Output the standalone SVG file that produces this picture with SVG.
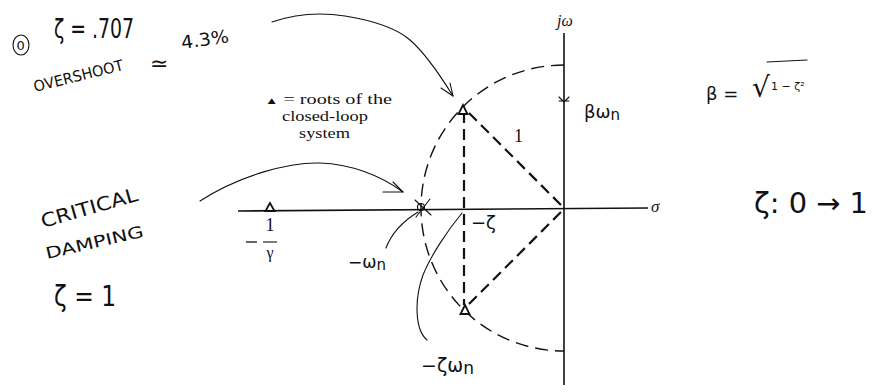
<svg xmlns="http://www.w3.org/2000/svg" width="878" height="392" viewBox="0 0 878 392">
<style>
.bg{fill:#fff}
.axis{stroke:#111;stroke-width:1.6;fill:none}
.dash{stroke:#111;stroke-width:2.2;fill:none;stroke-dasharray:11 6}
.arc{stroke:#111;stroke-width:1.4;fill:none;stroke-dasharray:13 7}
.hand{stroke:#111;stroke-width:1.1;fill:none;stroke-linecap:round;stroke-linejoin:round}
.tri{stroke:#111;stroke-width:1.8;fill:#fff;stroke-linejoin:miter}
.serif{font-family:"Liberation Serif","Times New Roman",serif;fill:#111}
.hw{font-family:"DejaVu Sans","Liberation Sans",sans-serif;fill:#111;font-weight:normal}
</style>
<rect class="bg" x="0" y="0" width="878" height="392"/>

<g id="axes">
  <line class="axis" x1="238" y1="211" x2="648" y2="208"/>
  <line class="axis" x1="564" y1="33" x2="564" y2="385"/>
  <path class="hand" d="M559,97 L564,102 L569,97 M559,101 L569,101" />
  <text class="serif" x="557" y="26" font-size="16" font-style="italic">jω</text>
  <text class="serif" x="651" y="212" font-size="17" font-style="italic">σ</text>
</g>

<g id="locus">
  <path class="arc" d="M564,65 A143,143 0 0 0 564,351"/>
  <line class="dash" x1="464" y1="112" x2="464" y2="305"/>
  <line class="dash" x1="469" y1="113" x2="562" y2="206"/>
  <line class="dash" x1="469" y1="304" x2="562" y2="211"/>
  <text class="serif" x="514" y="142" font-size="18">1</text>
  <text class="hw" x="471" y="229" font-size="18">−ζ</text>
</g>

<g id="roots">
  <polygon class="tri" points="463,105 458.5,114 467.5,114"/>
  <polygon class="tri" points="465,305 460.5,314 469.5,314"/>
  <polygon class="tri" points="270,203 265.5,211 274.5,211"/>
</g>

<g id="pole-label">
  <text class="serif" x="270" y="231" font-size="18" text-anchor="middle">1</text>
  <line x1="246" y1="242" x2="257" y2="242" stroke="#111" stroke-width="1.3"/>
  <line x1="263" y1="242" x2="277" y2="242" stroke="#111" stroke-width="1.1"/>
  <text class="serif" x="270" y="258" font-size="16" text-anchor="middle">γ</text>
</g>

<g id="legend">
  <text class="serif" x="265" y="104" font-size="15" textLength="127" lengthAdjust="spacingAndGlyphs"><tspan font-size="10">▲</tspan> = roots of the</text>
  <text class="serif" x="282" y="121" font-size="15" textLength="86" lengthAdjust="spacingAndGlyphs">closed-loop</text>
  <text class="serif" x="299" y="138" font-size="15" textLength="51" lengthAdjust="spacingAndGlyphs">system</text>
</g>

<g id="critical-point">
  <circle cx="421" cy="207" r="3.5" class="hand"/>
  <path class="hand" d="M415,200 L431,215 M430,199 L416,217"/>
</g>

<g id="connectors">
  <path class="hand" d="M272,22 C295,14 320,12 345,16 C370,20 395,27 410,40 C425,53 440,75 453,96"/>
  <path class="hand" d="M453,96 L441,88 M453,96 L450,83"/>
  <path class="hand" d="M200,201 C240,175 290,162 320,163 C350,164 380,175 403,192"/>
  <path class="hand" d="M403,192 L393,182 M403,192 L383,192"/>
  <path class="hand" d="M386,248 C392,232 405,220 418,212"/>
  <path class="hand" d="M427,340 C415,330 414,300 423,275 C431,255 448,230 462,213"/>
</g>

<g id="notes">
  <ellipse cx="21" cy="45" rx="8" ry="10" class="hand"/>
  <text class="hw" x="16.5" y="50" font-size="13">0</text>
  <text class="hw" x="54" y="38" font-size="26" textLength="80" lengthAdjust="spacingAndGlyphs">ζ = .707</text>
  <text class="hw" x="35" y="92" font-size="15" textLength="92" lengthAdjust="spacingAndGlyphs" transform="rotate(-14 35 92)">OVERSHOOT</text>
  <text class="hw" x="150" y="71" font-size="22">≃</text>
  <text class="hw" x="182" y="49" font-size="18" textLength="48" lengthAdjust="spacingAndGlyphs" transform="rotate(-8 182 49)">4.3%</text>
  <text class="hw" x="43" y="228" font-size="19" textLength="100" lengthAdjust="spacingAndGlyphs" transform="rotate(-16 43 228)">CRITICAL</text>
  <text class="hw" x="47" y="259" font-size="16" textLength="100" lengthAdjust="spacingAndGlyphs" transform="rotate(-13 47 259)">DAMPING</text>
  <text class="hw" x="54" y="306" font-size="28" textLength="62" lengthAdjust="spacingAndGlyphs">ζ = 1</text>
  <text class="hw" x="348" y="268" font-size="17">−ω<tspan font-size="15" dy="2">n</tspan></text>
  <text class="hw" x="421" y="372" font-size="19">−ζω<tspan font-size="17" dy="2">n</tspan></text>
  <text class="hw" x="584" y="118" font-size="18">βω<tspan font-size="15" dy="2">n</tspan></text>
  <text class="hw" x="706" y="100" font-size="18">β =</text>
  <text class="hw" x="752" y="97" font-size="28">√</text>
  <line class="hand" x1="767" y1="62" x2="807" y2="60"/>
  <text class="hw" x="771" y="90" font-size="11">1 − ζ²</text>
  <text class="hw" x="754" y="213" font-size="28" textLength="114" lengthAdjust="spacingAndGlyphs">ζ: 0 → 1</text>
</g>
</svg>
